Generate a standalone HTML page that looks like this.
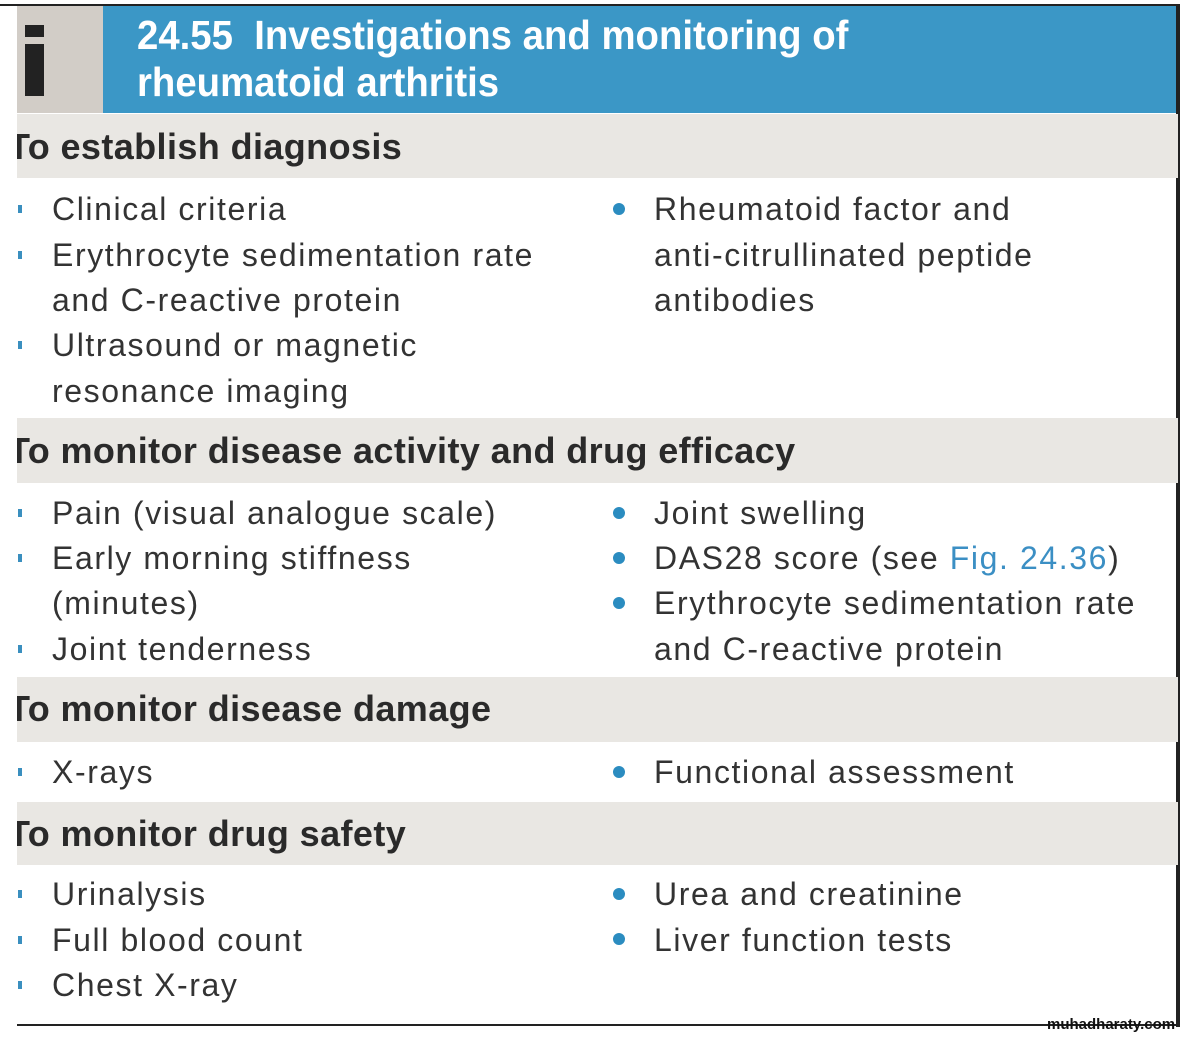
<!DOCTYPE html>
<html><head><meta charset="utf-8"><style>
body{margin:0;width:1196px;height:1042px;background:#fff;position:relative;overflow:hidden;font-family:"Liberation Sans",sans-serif;}
.a{position:absolute;}
.band{position:absolute;left:17px;width:1161px;background:#e9e7e3;overflow:hidden;}
.h{position:absolute;left:-9px;font-weight:bold;font-size:36px;letter-spacing:0.4px;color:#2a2a2a;white-space:nowrap;line-height:40px;}
.t{position:absolute;font-size:32px;color:#333;white-space:nowrap;line-height:40px;letter-spacing:1.6px;}
.lb{position:absolute;left:18px;width:4px;height:8px;background:#3a8fbf;}
.rb{position:absolute;left:613px;width:12px;height:12px;border-radius:50%;background:#2b8cc0;}
</style></head><body>
<div class="a" style="left:0;top:4px;width:1180px;height:2px;background:#222"></div>
<div class="a" style="left:17px;top:6px;width:86px;height:107px;background:#d2cdc7"></div>
<div class="a" style="left:25px;top:25px;width:19px;height:12px;background:#222"></div>
<div class="a" style="left:25px;top:44px;width:19px;height:52px;background:#222"></div>
<div class="a" style="left:103px;top:6px;width:1075px;height:107px;background:#3b97c6"></div>
<div class="a" style="left:137px;top:12px;color:#fff;font-weight:bold;font-size:41px;line-height:47px;white-space:nowrap;transform:scaleX(0.935);transform-origin:left top;">24.55&nbsp; Investigations and monitoring of<br>rheumatoid arthritis</div>
<div class="a" style="left:1176px;top:6px;width:4px;height:1021px;background:#222"></div>
<div class="a" style="left:17px;top:1024px;width:1163px;height:2px;background:#222"></div>

<div class="band" style="top:114px;height:64px"><div class="h" style="top:13px">To establish diagnosis</div></div>
<div class="band" style="top:418px;height:65px"><div class="h" style="top:13px">To monitor disease activity and drug efficacy</div></div>
<div class="band" style="top:677px;height:65px"><div class="h" style="top:12px">To monitor disease damage</div></div>
<div class="band" style="top:802px;height:63px"><div class="h" style="top:12px">To monitor drug safety</div></div>

<div class="lb" style="top:205px"></div><div class="t" style="left:52px;top:189px">Clinical criteria</div>
<div class="lb" style="top:251px"></div><div class="t" style="left:52px;top:235px">Erythrocyte sedimentation rate</div>
<div class="t" style="left:52px;top:280px">and C-reactive protein</div>
<div class="lb" style="top:341px"></div><div class="t" style="left:52px;top:325px">Ultrasound or magnetic</div>
<div class="t" style="left:52px;top:371px">resonance imaging</div>
<div class="rb" style="top:203px"></div><div class="t" style="left:654px;top:189px">Rheumatoid factor and</div>
<div class="t" style="left:654px;top:235px">anti-citrullinated peptide</div>
<div class="t" style="left:654px;top:280px">antibodies</div>

<div class="lb" style="top:509px"></div><div class="t" style="left:52px;top:493px">Pain (visual analogue scale)</div>
<div class="lb" style="top:554px"></div><div class="t" style="left:52px;top:538px">Early morning stiffness</div>
<div class="t" style="left:52px;top:583px">(minutes)</div>
<div class="lb" style="top:645px"></div><div class="t" style="left:52px;top:629px">Joint tenderness</div>
<div class="rb" style="top:507px"></div><div class="t" style="left:654px;top:493px">Joint swelling</div>
<div class="rb" style="top:552px"></div><div class="t" style="left:654px;top:538px">DAS28 score (see <span style="color:#3b8fc4">Fig. 24.36</span>)</div>
<div class="rb" style="top:597px"></div><div class="t" style="left:654px;top:583px">Erythrocyte sedimentation rate</div>
<div class="t" style="left:654px;top:629px">and C-reactive protein</div>

<div class="lb" style="top:768px"></div><div class="t" style="left:52px;top:752px">X-rays</div>
<div class="rb" style="top:766px"></div><div class="t" style="left:654px;top:752px">Functional assessment</div>

<div class="lb" style="top:890px"></div><div class="t" style="left:52px;top:874px">Urinalysis</div>
<div class="lb" style="top:936px"></div><div class="t" style="left:52px;top:920px">Full blood count</div>
<div class="lb" style="top:981px"></div><div class="t" style="left:52px;top:965px">Chest X-ray</div>
<div class="rb" style="top:888px"></div><div class="t" style="left:654px;top:874px">Urea and creatinine</div>
<div class="rb" style="top:933px"></div><div class="t" style="left:654px;top:920px">Liver function tests</div>

<div class="a" style="left:1047px;top:1016px;font-weight:bold;font-size:15px;color:#111;white-space:nowrap;">muhadharaty.com</div>
</body></html>
